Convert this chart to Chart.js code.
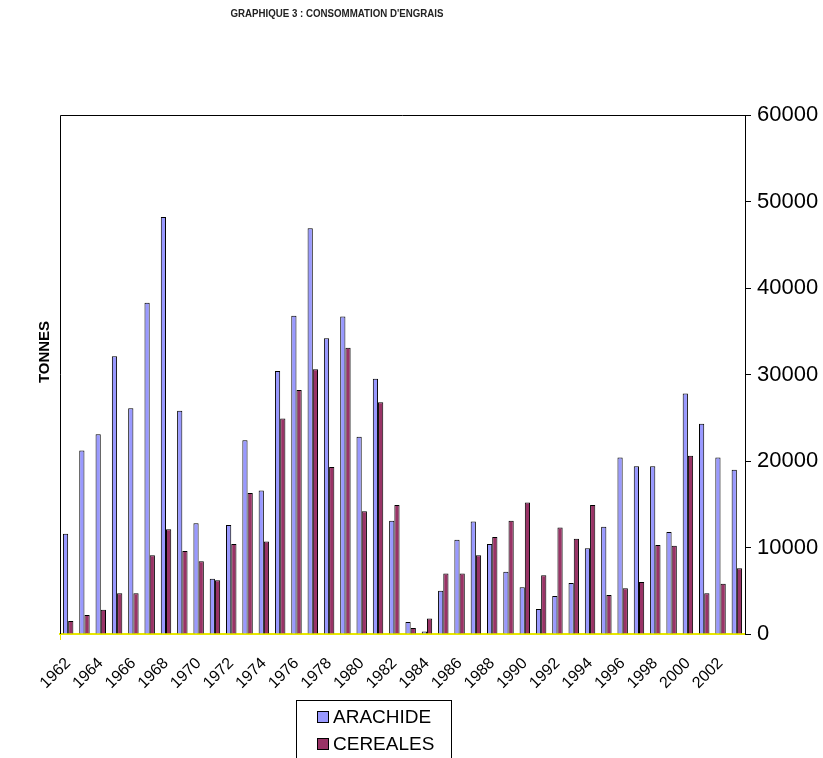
<!DOCTYPE html>
<html>
<head>
<meta charset="utf-8">
<script src="https://cdn.jsdelivr.net/npm/chart.js@4"></script>
<style>
  html, body { margin: 0; padding: 0; background: #fff; }
  #wrap { width: 823px; height: 758px; position: relative; }
</style>
</head>
<body>
<div id="wrap"><canvas id="c" width="823" height="758"></canvas></div>
<script>
const chartTitle = "GRAPHIQUE 3 : CONSOMMATION D'ENGRAIS";
const yTitle = "TONNES";
const years = [
  "1962","1963","1964","1965","1966","1967","1968","1969","1970","1971",
  "1972","1973","1974","1975","1976","1977","1978","1979","1980","1981",
  "1982","1983","1984","1985","1986","1987","1988","1989","1990","1991",
  "1992","1993","1994","1995","1996","1997","1998","1999","2000","2001",
  "2002","2003"
];
const arachide = [
  11600, 21200, 23100, 32100, 26100, 38300, 48200, 25800, 12800, 6400,
  12600, 22400, 16600, 30400, 36800, 46900, 34200, 36700, 22800, 29500,
  13100, 1400, 300, 5000, 10900, 13000, 10400, 7200, 5400, 2900,
  4400, 5900, 9900, 12400, 20400, 19400, 19400, 11800, 27800, 24300,
  20400, 19000
];
const cereales = [
  1500, 2200, 2800, 4700, 4700, 9100, 12100, 9600, 8400, 6200,
  10400, 16300, 10700, 24900, 28200, 30600, 19300, 33100, 14200, 26800,
  14900, 700, 1800, 7000, 7000, 9100, 11200, 13100, 15200, 6800,
  12300, 11000, 14900, 4500, 5300, 6000, 10300, 10200, 20600, 4700,
  5800, 7600
];
const yTicks = [0, 10000, 20000, 30000, 40000, 50000, 60000];

const seriesNames = ["ARACHIDE", "CEREALES"];
const seriesColors = ["#9999FF", "#993366"];

const decorPlugin = {
  id: 'decor',
  beforeDatasetsDraw(chart) {
    const ctx = chart.ctx, a = chart.chartArea;
    ctx.save();
    ctx.strokeStyle = '#000';
    ctx.lineWidth = 1;
    ctx.beginPath();
    ctx.moveTo(Math.round(a.left) + 0.5, Math.round(a.bottom));
    ctx.lineTo(Math.round(a.left) + 0.5, Math.round(a.top) + 0.5);
    ctx.lineTo(Math.round(a.right), Math.round(a.top) + 0.5);
    ctx.stroke();
    // small yellow tick at the left end of the category axis
    ctx.strokeStyle = '#E8E800';
    ctx.beginPath();
    ctx.moveTo(Math.round(a.left) + 0.5, Math.round(a.bottom));
    ctx.lineTo(Math.round(a.left) + 0.5, Math.round(a.bottom) + 6);
    ctx.stroke();
    ctx.restore();
  },
  afterDraw(chart) {
    const ctx = chart.ctx;
    ctx.save();
    // title
    ctx.fillStyle = '#222';
    ctx.font = 'bold 10px "Liberation Sans", Arial, sans-serif';
    ctx.textAlign = 'center';
    ctx.textBaseline = 'middle';
    const tw = ctx.measureText(chartTitle).width;
    const sx = 213 / tw;
    ctx.save();
    ctx.translate(337, 14);
    ctx.scale(sx, 1);
    ctx.fillText(chartTitle, 0, 0);
    ctx.restore();
    // y title
    ctx.save();
    ctx.translate(45, 352);
    ctx.rotate(-Math.PI / 2);
    ctx.font = 'bold 15px "Liberation Sans", Arial, sans-serif';
    ctx.fillStyle = '#000';
    ctx.fillText(yTitle, 0, 0);
    ctx.restore();
    // legend
    const lx = 296, ly = 700, lw = 155, lh = 70;
    ctx.strokeStyle = '#000';
    ctx.lineWidth = 1;
    ctx.strokeRect(lx + 0.5, ly + 0.5, lw, lh);
    ctx.font = '19px "Liberation Sans", Arial, sans-serif';
    ctx.textAlign = 'left';
    chart.data.datasets.forEach((ds, i) => {
      const cy = 717 + i * 27;
      ctx.fillStyle = ds.backgroundColor;
      ctx.fillRect(317, cy - 6, 12, 12);
      ctx.strokeStyle = '#000';
      ctx.strokeRect(317.5, cy - 5.5, 11, 11);
      ctx.fillStyle = '#000';
      ctx.fillText(ds.label, 333, cy + 1);
    });
    ctx.restore();
  }
};

new Chart(document.getElementById('c'), {
  type: 'bar',
  data: {
    labels: years,
    datasets: [
      { label: seriesNames[0], data: arachide, backgroundColor: seriesColors[0], borderColor: '#000', borderWidth: 1 },
      { label: seriesNames[1], data: cereales, backgroundColor: seriesColors[1], borderColor: '#000', borderWidth: 1 }
    ]
  },
  options: {
    responsive: false,
    animation: false,
    layout: { padding: { left: 60, top: 115, right: 0, bottom: 0 } },
    datasets: { bar: { categoryPercentage: 0.64, barPercentage: 1.0 } },
    plugins: {
      legend: { display: false },
      tooltip: { enabled: false },
      title: { display: false }
    },
    scales: {
      x: {
        grid: { display: false, drawTicks: false },
        border: { display: true, color: '#E8E800', width: 2 },
        ticks: {
          autoSkip: false,
          maxRotation: 45,
          minRotation: 45,
          padding: 20,
          color: '#000',
          font: { family: '"Liberation Sans", Arial, sans-serif', size: 16 },
          callback: function (v, i) { return i % 2 === 0 ? years[i] : ''; }
        },
        afterFit(scale) { scale.height = 124; }
      },
      y: {
        position: 'right',
        min: 0,
        max: 60000,
        afterBuildTicks(scale) { scale.ticks = yTicks.map(v => ({ value: v })); },
        grid: { drawOnChartArea: false, drawTicks: true, tickLength: 6, color: '#000' },
        border: { display: true, color: '#000', width: 1 },
        ticks: {
          padding: 6,
          color: '#000',
          font: { family: '"Liberation Sans", Arial, sans-serif', size: 22 },
          callback: v => String(v)
        },
        afterFit(scale) { scale.width = 78; }
      }
    }
  },
  plugins: [decorPlugin]
});
</script>
</body>
</html>
